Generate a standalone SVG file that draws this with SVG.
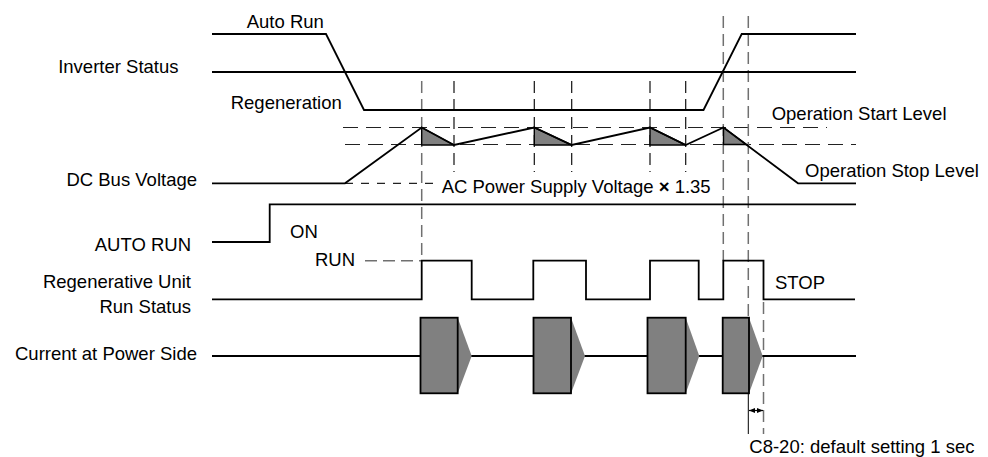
<svg xmlns="http://www.w3.org/2000/svg" width="988" height="457" viewBox="0 0 988 457">
<style>
text{font-family:"Liberation Sans",Arial,sans-serif;font-size:18.5px;fill:#000}
.r{text-anchor:end}
.sig{fill:none;stroke:#000;stroke-width:1.8;stroke-linejoin:miter}
.lvl{fill:none;stroke:#222;stroke-width:1.2;stroke-dasharray:15 8}
.vd{fill:none;stroke:#707070;stroke-width:1.5;stroke-dasharray:12 6}
.vs{fill:none;stroke:#111;stroke-width:1.2;stroke-dasharray:12 6}
.blk{fill:#808080;stroke:#000;stroke-width:1.8}
.tri{fill:#808080;stroke:none}
.dtri{fill:#808080;stroke:#000;stroke-width:1.4}
</style>
<defs>
<marker id="ah" viewBox="0 0 10 10" refX="10" refY="5" markerWidth="5" markerHeight="5" orient="auto-start-reverse">
<path d="M0,1 L10,5 L0,9 Z" fill="#000"/>
</marker>
</defs>
<g id="labels">
<text x="246.7" y="28.3">Auto Run</text>
<text class="r" x="178.5" y="73">Inverter Status</text>
<text x="230.7" y="109">Regeneration</text>
<text class="r" x="197" y="186">DC Bus Voltage</text>
<text class="r" x="191" y="250.7">AUTO RUN</text>
<text class="r" x="191" y="288.3">Regenerative Unit</text>
<text class="r" x="191" y="313.3">Run Status</text>
<text class="r" x="197" y="360">Current at Power Side</text>
<text x="771.7" y="120">Operation Start Level</text>
<text x="805" y="176.5">Operation Stop Level</text>
<text x="441.7" y="193.3">AC Power Supply Voltage <tspan font-weight="bold">×</tspan> 1.35</text>
<text x="290" y="238.3">ON</text>
<text x="315" y="265.7">RUN</text>
<text x="775" y="289">STOP</text>
<text x="749.3" y="453.3">C8-20: default setting 1 sec</text>
</g>
<g id="guides">
<line class="lvl" x1="343" y1="127.5" x2="827" y2="127.5"/>
<line class="lvl" x1="345" y1="144.5" x2="856" y2="144.5"/>
<line class="lvl" x1="345" y1="183.3" x2="437" y2="183.3" style="stroke-dasharray:8 8"/>
<line class="vd" x1="421.7" y1="81" x2="421.7" y2="260.7"/>
<line class="vs" x1="454" y1="81" x2="454" y2="172"/>
<line class="vs" x1="534.3" y1="81" x2="534.3" y2="172"/>
<line class="vs" x1="571.7" y1="81" x2="571.7" y2="172"/>
<line class="vs" x1="650" y1="81" x2="650" y2="172"/>
<line class="vs" x1="685.7" y1="81" x2="685.7" y2="172"/>
<line class="vd" x1="723.3" y1="16" x2="723.3" y2="260.7"/>
<line class="vd" x1="748.3" y1="16" x2="748.3" y2="393"/>
<line class="vd" x1="763.5" y1="302" x2="763.5" y2="434"/>
<line class="vd" x1="365" y1="260.7" x2="421.7" y2="260.7"/>
</g>
<g id="auto-run-status">
<polyline class="sig" points="212,34 326,34 364,110 703.5,110 741.7,34 856,34"/>
</g>
<g id="inverter-status">
<line class="sig" x1="212" y1="72" x2="856" y2="72"/>
</g>
<g id="dc-bus-voltage">
<path class="dtri" d="M421.7,127.5 L454,145 L421.7,145 Z"/>
<path class="dtri" d="M534.3,127.5 L571.7,145 L534.3,145 Z"/>
<path class="dtri" d="M650,127.5 L685.7,145 L650,145 Z"/>
<path class="dtri" d="M723.5,127.5 L746.5,144.5 L723.5,144.5 Z"/>
<polyline class="sig" points="212,183.3 345,183.3 421.7,127.5 454,145 534.3,127.5 571.7,145 650,127.5 685.7,145 723.5,127.5 798,183.3 856,183.3"/>
</g>
<g id="auto-run-signal">
<polyline class="sig" points="212,242 269.7,242 269.7,204.3 856,204.3"/>
</g>
<g id="regen-run-status">
<polyline class="sig" points="212,299.3 421.7,299.3 421.7,260.7 471.7,260.7 471.7,299.3 533.3,299.3 533.3,260.7 586,260.7 586,299.3 650,299.3 650,260.7 698.7,260.7 698.7,299.3 723.3,299.3 723.3,260.7 763.5,260.7 763.5,299.3 855,299.3"/>
</g>
<g id="current-power-side">
<line class="sig" x1="212" y1="356" x2="856" y2="356"/>
<path class="tri" d="M457.7,317.7 L471.7,356 L457.7,393.3 Z"/>
<rect class="blk" x="420.5" y="317.7" width="37.2" height="75.6"/>
<path class="tri" d="M571,317.7 L585,356 L571,393.3 Z"/>
<rect class="blk" x="533.5" y="317.7" width="37.5" height="75.6"/>
<path class="tri" d="M685.7,317.7 L699.3,356 L685.7,393.3 Z"/>
<rect class="blk" x="647.5" y="317.7" width="38.2" height="75.6"/>
<path class="tri" d="M749,317.7 L762.7,356 L749,393.3 Z"/>
<rect class="blk" x="722.7" y="317.7" width="26.3" height="75.6"/>
</g>
<g id="connectors">
<line x1="748.3" y1="393.3" x2="748.3" y2="434" stroke="#000" stroke-width="1"/>
<line x1="749" y1="410.5" x2="763" y2="410.5" stroke="#000" stroke-width="1.2" marker-start="url(#ah)" marker-end="url(#ah)"/>
</g>
</svg>
